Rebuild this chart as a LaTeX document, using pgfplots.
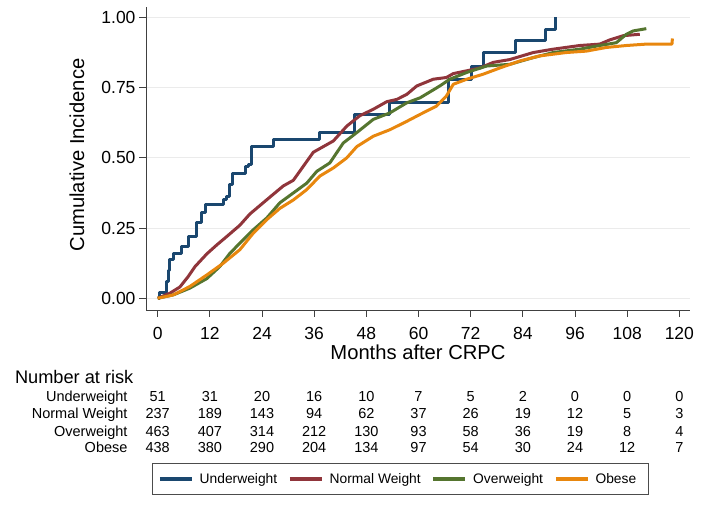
\documentclass[border=0pt]{standalone}
\usepackage{pgfplots}
\pgfplotsset{compat=1.18}
\usepackage{fontspec}
\setmainfont{Liberation Sans}
\definecolor{cNavy}{HTML}{1A476F}
\definecolor{cMaroon}{HTML}{90353B}
\definecolor{cGreen}{HTML}{55752F}
\definecolor{cOrange}{HTML}{E8870E}
\begin{document}
\begin{tikzpicture}[x=1pt,y=1pt]
\useasboundingbox (0,0) rectangle (704,505);
\begin{axis}[
  at={(146pt,195pt)}, anchor=south west,
  scale only axis, width=544pt, height=303.3pt,
  xmin=-2.69, xmax=122.45, ymin=-0.0418, ymax=1.0382,
  axis x line*=bottom, axis y line*=left,
  axis line style={black!75, line width=0.8pt, -},
  xtick={0,12,...,120}, ytick={0,0.25,0.5,0.75,1},
  tick align=outside, major tick length=7pt,
  tick style={black!75, line width=0.8pt},
  ymajorgrids, grid style={black!8, line width=1pt},
  /pgf/number format/assume math mode=true,
  yticklabel style={/pgf/number format/.cd, fixed, fixed zerofill, precision=2},
  ticklabel style={font=\fontsize{17.5}{20}\selectfont},
  xticklabel style={yshift=-7pt},
  xlabel={Months after CRPC},
  ylabel={Cumulative Incidence},
  label style={font=\fontsize{20.2}{24}\selectfont},
  xlabel style={at={(axis description cs:0.5,-0.1385)}, anchor=center},
  ylabel style={at={(axis description cs:-0.1268,0.511)}, anchor=center},
  legend columns=4,
  legend style={at={(axis description cs:0.4673,-0.5054)}, anchor=north,
    draw=black!70, line width=0.8pt, font=\fontsize{13.8}{16}\selectfont,
    inner xsep=6pt, inner ysep=7.5pt,
    nodes={inner xsep=6pt, inner ysep=2pt},
    /tikz/every even column/.append style={column sep=5pt}},
  legend image code/.code={\draw[#1, line width=3.5pt] (0pt,0pt) -- (32pt,0pt);},
  every axis plot/.append style={line width=3pt, line join=round},
]
\addplot[cNavy, const plot mark left] coordinates {
(0,0) (0.4,0.02) (2.0,0.06) (2.4,0.10) (2.8,0.137) (3.6,0.161) (5.5,0.185)
(7.0,0.22) (8.9,0.268) (10.0,0.304) (10.9,0.333) (15.2,0.351) (15.9,0.363)
(16.5,0.405) (17.3,0.446) (20.1,0.47) (20.8,0.476) (21.6,0.542) (26.6,0.565)
(37.3,0.589) (45.2,0.655) (53.4,0.696) (67.0,0.78) (72.2,0.827) (74.9,0.875)
(82.2,0.917) (89.1,0.958) (91.6,1.0)
};
\addlegendentry{Underweight}
\addplot[cMaroon] coordinates {
(0,0) (2.8,0.018) (5.1,0.04) (7.0,0.077) (8.6,0.113) (11.3,0.158) (13.6,0.19)
(15.9,0.22) (18.9,0.26) (21.2,0.30) (23.5,0.33) (25.8,0.36) (28.9,0.40)
(31.2,0.42) (33.5,0.47) (35.8,0.52) (38.1,0.54) (40.4,0.56) (43.5,0.613)
(46.5,0.65) (49.6,0.673) (52.7,0.70) (55.0,0.708) (57.3,0.726) (59.6,0.756)
(61.5,0.768) (63.4,0.78) (66.4,0.786) (68.0,0.80) (71.1,0.81) (74.1,0.82)
(77.2,0.84) (81.0,0.85) (86.4,0.875) (91.0,0.887) (97.1,0.90) (101.7,0.905)
(104.0,0.92) (107.1,0.935) (110.9,0.94)
};
\addlegendentry{Normal Weight}
\addplot[cGreen] coordinates {
(0,0) (3.6,0.012) (7.4,0.036) (11.3,0.07) (14.3,0.113) (16.6,0.16) (18.9,0.196)
(22.0,0.244) (25.1,0.286) (28.1,0.34) (31.2,0.375) (34.3,0.41) (36.6,0.452)
(39.6,0.482) (42.7,0.553) (45.8,0.59) (49.6,0.637) (53.4,0.66) (57.3,0.696)
(60.4,0.714) (64.9,0.756) (67.2,0.78) (71.1,0.804) (75.7,0.827) (81.0,0.833)
(86.4,0.857) (91.0,0.875) (97.1,0.887) (101.7,0.90) (105.5,0.91) (107.8,0.94)
(109.4,0.952) (112.4,0.96)
};
\addlegendentry{Overweight}
\addplot[cOrange] coordinates {
(0,0) (3.6,0.012) (7.4,0.042) (11.3,0.083) (15.1,0.125) (18.9,0.173) (22.0,0.232)
(25.1,0.28) (28.1,0.32) (31.2,0.35) (34.3,0.387) (37.3,0.435) (40.4,0.464)
(43.5,0.50) (45.8,0.54) (49.6,0.577) (53.4,0.60) (57.3,0.63) (60.4,0.655)
(64.1,0.684) (66.4,0.72) (68.0,0.762) (71.1,0.78) (74.9,0.798) (78.7,0.82)
(83.3,0.845) (87.9,0.863) (94.0,0.875) (98.6,0.88) (103.2,0.893) (107.8,0.90)
(112.4,0.905) (118.3,0.905) (118.4,0.925)
};
\addlegendentry{Obese}
\end{axis}
\node[anchor=base west, font=\fontsize{18.2}{21}\selectfont] at (11.5,121.5) {Number at risk};
\begin{scope}[every node/.style={font=\fontsize{14.5}{17}\selectfont, anchor=base}]
\node[anchor=base east] at (131,103.8) {Underweight};
\node[anchor=base east] at (131,86.3) {Normal Weight};
\node[anchor=base east] at (131,68.8) {Overweight};
\node[anchor=base east] at (131,52.3) {Obese};
\foreach \v [count=\i from 0] in {51,31,20,16,10,7,5,2,0,0,0}
  \node at ({157.7+52.164*\i},103.8) {\v};
\foreach \v [count=\i from 0] in {237,189,143,94,62,37,26,19,12,5,3}
  \node at ({157.7+52.164*\i},86.3) {\v};
\foreach \v [count=\i from 0] in {463,407,314,212,130,93,58,36,19,8,4}
  \node at ({157.7+52.164*\i},68.8) {\v};
\foreach \v [count=\i from 0] in {438,380,290,204,134,97,54,30,24,12,7}
  \node at ({157.7+52.164*\i},52.3) {\v};
\end{scope}
\end{tikzpicture}
\end{document}
